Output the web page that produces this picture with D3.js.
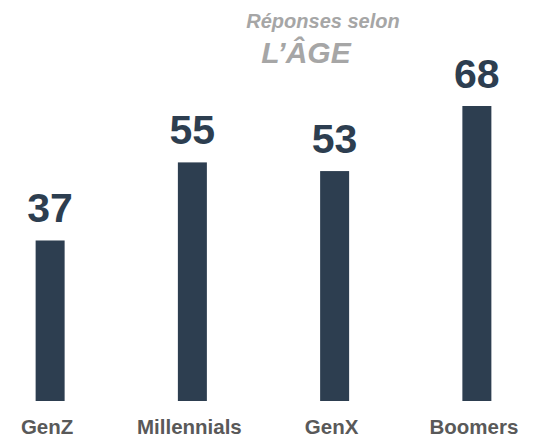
<!DOCTYPE html>
<html><head><meta charset="utf-8">
<script src="https://cdn.jsdelivr.net/npm/d3@7"></script>
<style>body{margin:0;background:#fff}svg{display:block}</style>
</head><body>
<script>
const categories = ["GenZ", "Millennials", "GenX", "Boomers"];
const values = [37, 55, 53, 68];
const titleLines = ["Réponses selon", "L\u2019ÂGE"];

const W = 541, H = 442;
const svg = d3.select("body").append("svg").attr("width", W).attr("height", H);

const x = d3.scaleBand().domain(categories).range([-21, 548]).paddingInner(0.8).paddingOuter(0.4);
const y = d3.scaleLinear().domain([0, 68]).range([401, 106]);
const font = "'Liberation Sans', Arial, sans-serif";
const bw = 29;

svg.selectAll("rect.bar").data(values).join("rect")
  .attr("class", "bar")
  .attr("x", (d, i) => x(categories[i]) + x.bandwidth() / 2 - bw / 2)
  .attr("width", bw)
  .attr("y", d => y(d))
  .attr("height", d => y(0) - y(d))
  .attr("fill", "#2d3e50");

svg.selectAll("text.val").data(values).join("text")
  .attr("class", "val")
  .attr("x", (d, i) => x(categories[i]) + x.bandwidth() / 2)
  .attr("y", d => y(d) - 18)
  .attr("text-anchor", "middle")
  .attr("font-family", font).attr("font-weight", "bold").attr("font-size", 41)
  .attr("fill", "#2d3e50")
  .text(d => d);

const xAxis = d3.axisBottom(x).tickSize(0).tickPadding(0);
const ax = svg.append("g").attr("transform", "translate(-3,434)").call(xAxis);
ax.select(".domain").remove();
ax.selectAll("text")
  .attr("dy", 0)
  .attr("font-family", font).attr("font-weight", "bold").attr("font-size", 20.5)
  .attr("fill", "#595959");

svg.append("text").attr("x", 323).attr("y", 28).attr("text-anchor", "middle")
  .attr("font-family", font).attr("font-weight", "bold").attr("font-style", "italic")
  .attr("font-size", 20).attr("fill", "#a6a6a6").text(titleLines[0]);
svg.append("text").attr("x", 306).attr("y", 63).attr("text-anchor", "middle")
  .attr("font-family", font).attr("font-weight", "bold").attr("font-style", "italic")
  .attr("font-size", 30).attr("fill", "#a6a6a6").text(titleLines[1]);
</script>
</body></html>
